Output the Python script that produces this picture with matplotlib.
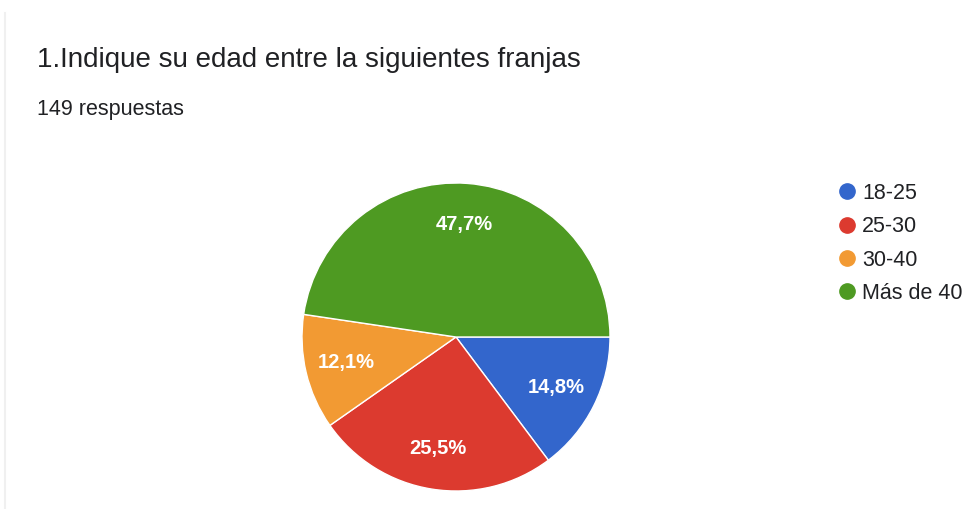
import matplotlib.pyplot as plt
from matplotlib.lines import Line2D

# datos de la encuesta (149 respuestas)
labels = ['18-25', '25-30', '30-40', 'Más de 40']
counts = [22, 38, 18, 71]
colors = ['#3366CC', '#DC3A2F', '#F29A33', '#4E9A22']

title = '1.Indique su edad entre la siguientes franjas'
subtitle = '%d respuestas' % sum(counts)

plt.rcParams['font.family'] = ['Liberation Sans', 'DejaVu Sans']

fig = plt.figure(figsize=(9.66, 5.09), dpi=100)
fig.patch.set_facecolor('white')

# faint card border on the left
fig.add_artist(Line2D([4.5 / 966, 4.5 / 966], [0, 1 - 13 / 509],
                      color='#f0f0f0', linewidth=1.5))

fig.text(37 / 966, 1 - 60 / 509, title, fontsize=20, color='#202124',
         va='center', ha='left')
fig.text(37 / 966, 1 - 110 / 509, subtitle, fontsize=15.5, color='#202124',
         va='center', ha='left')

# pie axes: center (456, 337) px, radius 154 px
cx, cy, r = 456, 337, 154
ax = fig.add_axes([(cx - r) / 966, (509 - cy - r) / 509, 2 * r / 966, 2 * r / 509])


def fmt(p):
    return ('%.1f%%' % p).replace('.', ',')


wedges, texts, autotexts = ax.pie(counts, colors=colors, startangle=0, counterclock=False,
                                  radius=1, autopct=fmt, pctdistance=0.73,
                                  wedgeprops=dict(edgecolor='white', linewidth=1),
                                  textprops=dict(color='white', fontsize=14.5,
                                                 fontweight='bold'))
ax.set_xlim(-1, 1)
ax.set_ylim(-1, 1)
ax.set_aspect('equal')

handles = [Line2D([], [], marker='o', linestyle='none', markersize=11,
                  markerfacecolor=c, markeredgecolor=c) for c in colors]
fig.legend(handles, labels, loc='upper left', bbox_to_anchor=(836 / 966, 1 - 183 / 509),
           frameon=False, fontsize=15.5, labelspacing=0.57, handlelength=1.0,
           handletextpad=0.22, borderpad=0, borderaxespad=0, labelcolor='#202124')

plt.savefig('out.png', dpi=100, facecolor='white')
